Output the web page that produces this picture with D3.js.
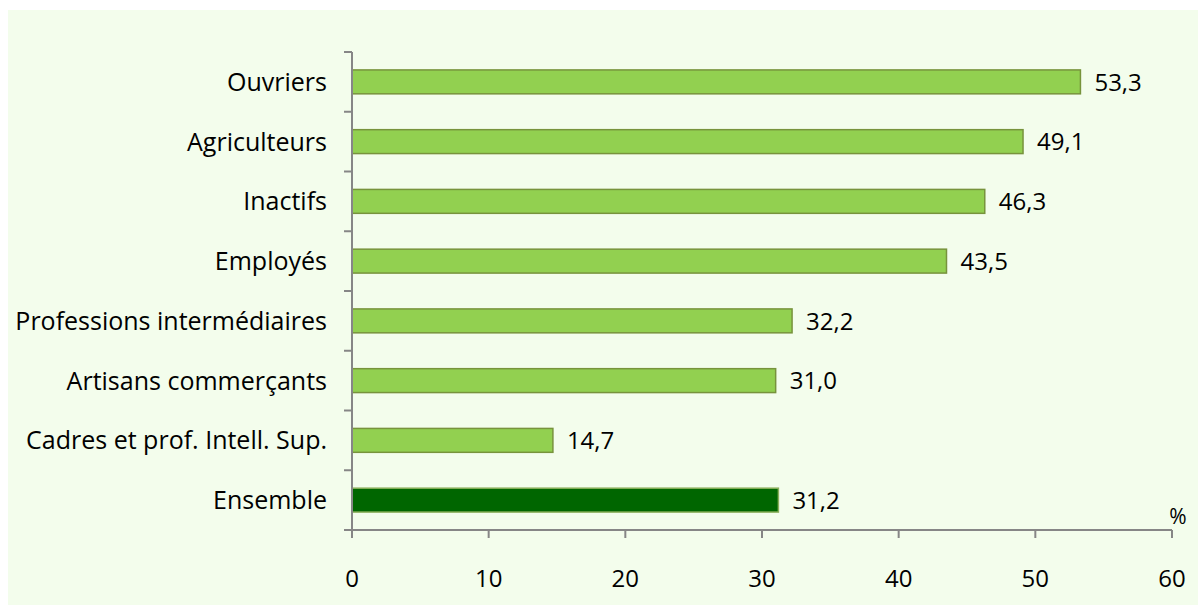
<!DOCTYPE html>
<html><head><meta charset="utf-8">
<script src="https://cdn.jsdelivr.net/npm/d3@7"></script>
<style>body{margin:0;background:#fff}svg{display:block}</style>
</head><body>
<script>
const categories = ["Ouvriers","Agriculteurs","Inactifs","Employés","Professions intermédiaires","Artisans commerçants","Cadres et prof. Intell. Sup.","Ensemble"];
const values = [53.3,49.1,46.3,43.5,32.2,31.0,14.7,31.2];
const xTicks = [0,10,20,30,40,50,60];
const highlight = ["Ensemble"];

const W=1198,H=605;
const svg=d3.select("body").append("svg").attr("width",W).attr("height",H);
const font="'Open Sans', sans-serif";
svg.append("rect").attr("x",8).attr("y",10).attr("width",W-8).attr("height",H-10).attr("fill","#F3FDEC");

const x=d3.scaleLinear().domain([0,60]).range([352,1172]);
const y=d3.scaleBand().domain(categories).range([52,530]).paddingInner(0.6).paddingOuter(0.3);

svg.selectAll("rect.bar").data(categories).join("rect").attr("class","bar")
 .attr("x",x(0)).attr("y",d=>y(d)).attr("height",y.bandwidth())
 .attr("width",(d,i)=>x(values[i])-x(0))
 .attr("fill",d=>highlight.includes(d)?"#006600":"#92D050")
 .attr("stroke",d=>highlight.includes(d)?"#8AAF5A":"#77933C").attr("stroke-width",1.5);

svg.selectAll("text.val").data(categories).join("text").attr("class","val")
 .attr("x",(d,i)=>x(values[i])+14).attr("y",d=>y(d)+y.bandwidth()/2)
 .attr("dy","0.36em").attr("font-family",font).attr("font-size",24).attr("fill","#000")
 .text((d,i)=>d3.format(".1f")(values[i]).replace(".",","));

const ax=svg.append("g").attr("stroke","#868686").attr("stroke-width",2).attr("fill","none");
const step=y.step();
ax.append("line").attr("x1",x(0)).attr("x2",x(0)).attr("y1",52).attr("y2",530);
ax.append("line").attr("x1",x(0)).attr("x2",x(60)).attr("y1",530).attr("y2",530);
d3.range(categories.length+1).forEach(i=>{
  ax.append("line").attr("x1",x(0)-8).attr("x2",x(0)).attr("y1",52+i*step).attr("y2",52+i*step);
});
xTicks.forEach(t=>{
  ax.append("line").attr("x1",x(t)).attr("x2",x(t)).attr("y1",530).attr("y2",538);
});

svg.selectAll("text.cat").data(categories).join("text").attr("class","cat")
 .attr("x",327).attr("y",d=>y(d)+y.bandwidth()/2).attr("dy","0.36em").attr("text-anchor","end")
 .attr("font-family",font).attr("font-size",25).attr("fill","#000").text(d=>d);

svg.selectAll("text.xt").data(xTicks).join("text").attr("class","xt")
 .attr("x",d=>x(d)).attr("y",587).attr("text-anchor","middle")
 .attr("font-family",font).attr("font-size",24).attr("fill","#000").text(d=>d);

svg.append("text").attr("x",1178).attr("y",524).attr("font-family",font).attr("font-size",21)
 .attr("text-anchor","middle").text("%");
</script>
</body></html>
